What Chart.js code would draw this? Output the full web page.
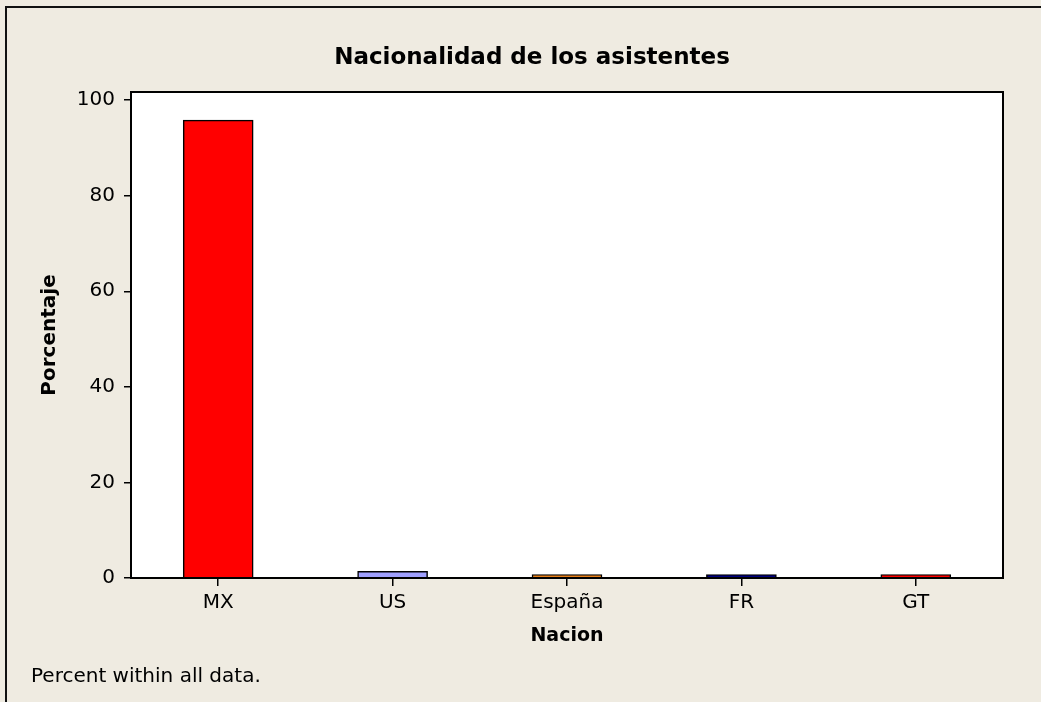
<!DOCTYPE html>
<html>
<head>
<meta charset="utf-8">
<script src="https://cdn.jsdelivr.net/npm/chart.js@4"></script>
<style>
html,body{margin:0;padding:0;background:#EFEBE1;}
#wrap{position:absolute;left:0;top:0;width:1041px;height:702px;background:#EFEBE1;}
#frame{position:absolute;left:5px;top:6px;width:1100px;height:800px;border-left:2px solid #111;border-top:2px solid #111;}
canvas{position:absolute;left:0;top:0;}
</style>
</head>
<body>
<div id="wrap">
<div id="frame"></div>
<canvas id="c" width="1041" height="702"></canvas>
</div>
<script>
const categories = ["MX", "US", "España", "FR", "GT"];
const percentages = [95.8, 1.4, 0.7, 0.7, 0.7];
const barColors = ["#FF0000", "#A0A0FF", "#E8801A", "#000080", "#FF0000"];
const yTicks = [0, 20, 40, 60, 80, 100];
const chartTitle = "Nacionalidad de los asistentes";
const xTitle = "Nacion";
const yTitle = "Porcentaje";
const footnote = "Percent within all data.";

const FONT = "'DejaVu Sans', Verdana, sans-serif";

const textPlugin = {
  id: 'texts',
  beforeDraw(chart) {
    const {ctx, chartArea} = chart;
    ctx.save();
    ctx.fillStyle = '#FFFFFF';
    ctx.fillRect(chartArea.left, chartArea.top, chartArea.right - chartArea.left, chartArea.bottom - chartArea.top);
    ctx.restore();
  },
  afterDraw(chart) {
    const {ctx, chartArea} = chart;
    const cx = (chartArea.left + chartArea.right) / 2;
    const cy = (chartArea.top + chartArea.bottom) / 2;
    ctx.save();
    ctx.strokeStyle = '#000';
    ctx.lineWidth = 2;
    ctx.strokeRect(chartArea.left, chartArea.top, chartArea.right - chartArea.left, chartArea.bottom - chartArea.top);
    ctx.fillStyle = '#000';
    ctx.textAlign = 'center';
    ctx.textBaseline = 'middle';
    ctx.font = "bold 23px " + FONT;
    ctx.fillText(chartTitle, 532, 58);
    ctx.font = "bold 19px " + FONT;
    ctx.fillText(xTitle, cx, 636);
    ctx.save();
    ctx.translate(50, cy);
    ctx.rotate(-Math.PI / 2);
    ctx.font = "bold 20px " + FONT;
    ctx.fillText(yTitle, 0, 0);
    ctx.restore();
    ctx.font = "20px " + FONT;
    ctx.textAlign = 'left';
    ctx.fillText(footnote, 31, 677);
    ctx.restore();
  }
};

new Chart(document.getElementById('c'), {
  type: 'bar',
  data: {
    datasets: [{
      data: categories.map((c, i) => ({x: i, y: percentages[i]})),
      backgroundColor: barColors,
      borderColor: '#000',
      borderWidth: 1.5,
      barThickness: 70
    }]
  },
  options: {
    responsive: false,
    animation: false,
    devicePixelRatio: 1,
    layout: {padding: {left: 0, top: 92, right: 38, bottom: 0}},
    plugins: {legend: {display: false}, tooltip: {enabled: false}, title: {display: false}},
    scales: {
      x: {
        type: 'linear',
        min: -0.5,
        max: 4.5,
        offset: false,
        afterBuildTicks: (s) => { s.ticks = categories.map((c, i) => ({value: i})); },
        afterFit: (s) => { s.height = 124; },
        ticks: {
          autoSkip: false,
          maxRotation: 0,
          color: '#000',
          font: {family: FONT, size: 20},
          padding: 5,
          callback: (v) => categories[v]
        },
        grid: {offset: false, drawOnChartArea: false, drawTicks: true, tickLength: 8, color: '#000', lineWidth: 1.5},
        border: {display: true, color: '#000', width: 2}
      },
      y: {
        type: 'linear',
        min: 0,
        max: 101.7,
        afterBuildTicks: (s) => { s.ticks = yTicks.map(v => ({value: v})); },
        afterFit: (s) => { s.width = 131; },
        ticks: {
          color: '#000',
          font: {family: FONT, size: 20},
          padding: 9
        },
        grid: {drawOnChartArea: false, drawTicks: true, tickLength: 7, color: '#000', lineWidth: 1.5},
        border: {display: true, color: '#000', width: 2}
      }
    }
  },
  plugins: [textPlugin]
});
</script>
</body>
</html>
